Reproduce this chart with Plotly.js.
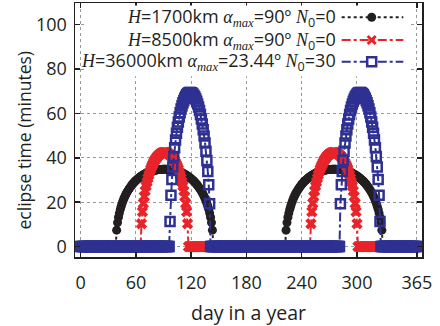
<!DOCTYPE html>
<html>
<head>
<meta charset="utf-8">
<script src="https://cdn.plot.ly/plotly-3.0.1.min.js"></script>
<style>
  html, body { margin: 0; padding: 0; background: #fff; }
  #chart { width: 440px; height: 326px; }
</style>
</head>
<body>
<div id="chart"></div>
<script>
// Day of the year, 0 .. 365
const dayCount = 366;

// Daily eclipse duration (minutes) inside each eclipse season; every other day is 0.
// H = 1700 km, alpha_max = 90 deg, N0 = 0
const blackSeasonStarts = [39, 223];
const blackSeason = [
  7.4, 10.8, 13.2, 15.1, 16.8, 18.2, 19.5, 20.7, 21.7, 22.6, 23.5, 24.3, 25.0,
  25.7, 26.3, 26.9, 27.5, 28.0, 28.5, 29.0, 29.4, 29.8, 30.2, 30.5, 30.9, 31.2,
  31.5, 31.8, 32.1, 32.3, 32.6, 32.8, 33.0, 33.2, 33.4, 33.6, 33.7, 33.9, 34.0,
  34.1, 34.2, 34.4, 34.4, 34.5, 34.6, 34.7, 34.7, 34.8, 34.8, 34.8, 34.9, 34.9,
  34.9,
  34.9, 34.9, 34.8, 34.8, 34.8, 34.7, 34.7, 34.6, 34.5, 34.4, 34.4, 34.2, 34.1,
  34.0, 33.9, 33.7, 33.6, 33.4, 33.2, 33.0, 32.8, 32.6, 32.3, 32.1, 31.8, 31.5,
  31.2, 30.9, 30.5, 30.2, 29.8, 29.4, 29.0, 28.5, 28.0, 27.5, 26.9, 26.3, 25.7,
  25.0, 24.3, 23.5, 22.6, 21.7, 20.7, 19.5, 18.2, 16.8, 15.1, 13.2, 10.8, 7.4
];

// H = 8500 km, alpha_max = 90 deg, N0 = 0
const redSeasonStarts = [66, 250];
const redSeason = [
  10.3, 15.7, 19.5, 22.6, 25.1, 27.3, 29.1, 30.8, 32.3, 33.7, 34.9, 36.0, 36.9,
  37.8, 38.6, 39.3, 39.9, 40.5, 40.9, 41.3, 41.7, 42.0, 42.2, 42.3, 42.4, 42.4,
  42.4, 42.3, 42.2, 42.0, 41.7, 41.3, 40.9, 40.5, 39.9, 39.3, 38.6, 37.8, 36.9,
  36.0, 34.9, 33.7, 32.3, 30.8, 29.1, 27.3, 25.1, 22.6, 19.5, 15.7, 10.3
];

// H = 36000 km, alpha_max = 23.44 deg, N0 = 30
const blueSpringStart = 97;
const blueSpring = [
  11.3, 23.1, 30.2, 35.9, 40.6, 44.6, 48.0, 51.1, 53.8, 56.2, 58.4, 60.3, 62.0,
  63.5, 64.8, 65.9, 66.9, 67.7, 68.4, 68.9, 69.2, 69.4, 69.4, 69.3, 69.1, 68.7,
  68.1, 67.4, 66.5, 65.5, 64.3, 62.9, 61.3, 59.5, 57.5, 55.3, 52.7, 49.9, 46.7,
  43.0, 38.8, 33.8, 27.9, 19.3
];
const blueAutumnStart = 282;
const blueAutumn = [
  19.3, 27.9, 33.8, 38.8, 43.0, 46.7, 49.9, 52.7, 55.3, 57.5, 59.5, 61.3, 62.9,
  64.3, 65.5, 66.5, 67.4, 68.1, 68.7, 69.1, 69.3, 69.4, 69.4, 69.2, 68.9, 68.4,
  67.7, 66.9, 65.9, 64.8, 63.5, 62.0, 60.3, 58.4, 56.2, 53.8, 51.1, 48.0, 44.6,
  40.6, 35.9, 30.2, 23.1, 11.3
];

// Series labels: symbols in serif italic, the rest in the sans body font
const SERIF = 'font-family:Liberation Serif';
const sym = s => `<span style="${SERIF}"><i>${s}</i></span>`;
const seriesNames = [
  `${sym('H')}=1700km ${sym('α')}${sym('<sub>max</sub>')}=90º ${sym('N')}<sub>0</sub>=0`,
  `${sym('H')}=8500km ${sym('α')}${sym('<sub>max</sub>')}=90º ${sym('N')}<sub>0</sub>=0`,
  `${sym('H')}=36000km ${sym('α')}${sym('<sub>max</sub>')}=23.44º ${sym('N')}<sub>0</sub>=30`
];

const xTickVals = [0, 60, 120, 180, 240, 300, 365];
const yTickVals = [0, 20, 40, 60, 80, 100];
const xTitle = 'day in a year';
const yTitle = 'eclipse time (minutes)';

// ---- assemble full-year series ----
const days = Array.from({length: dayCount}, (_, i) => i);
function yearSeries(pieces) {
  const y = new Array(dayCount).fill(0);
  pieces.forEach(([start, vals]) => vals.forEach((v, i) => { y[start + i] = v; }));
  return y;
}
const yBlack = yearSeries(blackSeasonStarts.map(s => [s, blackSeason]));
const yRed = yearSeries(redSeasonStarts.map(s => [s, redSeason]));
const yBlue = yearSeries([[blueSpringStart, blueSpring], [blueAutumnStart, blueAutumn]]);

const INK = '#231f20';
const RED = '#e8242a';
const BLUE = '#2e3192';

const traces = [
  {x: days, y: yBlack, type: 'scatter', mode: 'lines+markers', name: 'H=1700km',
   line: {color: INK, width: 2, dash: 'dot'},
   marker: {symbol: 'circle', size: 9, color: INK}},
  {x: days, y: yRed, type: 'scatter', mode: 'lines+markers', name: 'H=8500km',
   line: {color: RED, width: 2, dash: 'dashdot'},
   marker: {symbol: 'x', size: 10, color: RED}},
  {x: days, y: yBlue, type: 'scatter', mode: 'lines+markers', name: 'H=36000km',
   line: {color: BLUE, width: 2, dash: 'dashdot'},
   marker: {symbol: 'square-open', size: 9, color: BLUE, line: {width: 2.5, color: BLUE}}}
];

// ---- legend block: text on the left, key on the right ----
const legendRows = [0.9437, 0.8543, 0.7689];
const legendColors = [INK, RED, BLUE];
const legendDash = ['dot', 'dashdot', 'dashdot'];
const keyX0 = 0.7686, keyX1 = 0.9461, keyMid = 0.855, textRight = 0.757;

const shapes = [
  {type: 'rect', xref: 'paper', yref: 'paper', x0: 0.028, x1: 0.966, y0: 0.712, y1: 0.99,
   fillcolor: '#fff', line: {width: 0}, layer: 'above'}
];
const annotations = [];
legendRows.forEach((yy, i) => {
  shapes.push({type: 'line', xref: 'paper', yref: 'paper', x0: keyX0, x1: keyX1, y0: yy, y1: yy,
    line: {color: legendColors[i], width: 2, dash: legendDash[i]}, layer: 'above'});
  annotations.push({xref: 'paper', yref: 'paper', x: textRight, y: yy, xanchor: 'right', yanchor: 'middle',
    text: seriesNames[i], showarrow: false, font: {size: 18, color: INK}});
});
const pix = {xref: 'paper', yref: 'paper', xsizemode: 'pixel', ysizemode: 'pixel', xanchor: keyMid, layer: 'above'};
shapes.push(Object.assign({}, pix, {type: 'circle', yanchor: legendRows[0], x0: -4.5, x1: 4.5, y0: -4.5, y1: 4.5,
  fillcolor: INK, line: {width: 0}}));
shapes.push(Object.assign({}, pix, {type: 'path', yanchor: legendRows[1], path: 'M-4,-4L4,4M-4,4L4,-4',
  line: {color: RED, width: 3}}));
shapes.push(Object.assign({}, pix, {type: 'rect', yanchor: legendRows[2], x0: -4.5, x1: 4.5, y0: -4.5, y1: 4.5,
  fillcolor: '#fff', line: {color: BLUE, width: 2.5}}));

// y-axis title set close to the tick labels
annotations.push({xref: 'paper', yref: 'paper', x: -0.146, y: 0.46, xanchor: 'center', yanchor: 'middle',
  textangle: -90, text: yTitle, showarrow: false, font: {size: 17.5, color: INK}});

const axisCommon = {
  showline: true, linecolor: INK, linewidth: 1.5, mirror: 'ticks',
  ticks: 'inside', ticklen: 5, tickwidth: 1.5, tickcolor: INK,
  showgrid: true, gridcolor: '#9a9a9a', gridwidth: 1, griddash: 'dot',
  zeroline: false, tickfont: {size: 18, color: INK}
};

const layout = {
  width: 440, height: 326,
  margin: {l: 75, r: 18, t: 3, b: 69},
  paper_bgcolor: '#fff', plot_bgcolor: '#fff',
  font: {family: 'Open Sans, sans-serif', size: 18, color: INK},
  showlegend: false,
  xaxis: Object.assign({}, axisCommon, {
    range: [-6.2, 370.6], tickmode: 'array', tickvals: xTickVals,
    ticklabelstandoff: 9,
    title: {text: xTitle, font: {size: 19.5, color: INK}, standoff: 14}
  }),
  yaxis: Object.assign({}, axisCommon, {
    range: [-4.7, 109.8], tickmode: 'array', tickvals: yTickVals,
    ticklabelstandoff: 3
  }),
  shapes: shapes,
  annotations: annotations
};

Plotly.newPlot('chart', traces, layout, {displayModeBar: false, staticPlot: true});
</script>
</body>
</html>
